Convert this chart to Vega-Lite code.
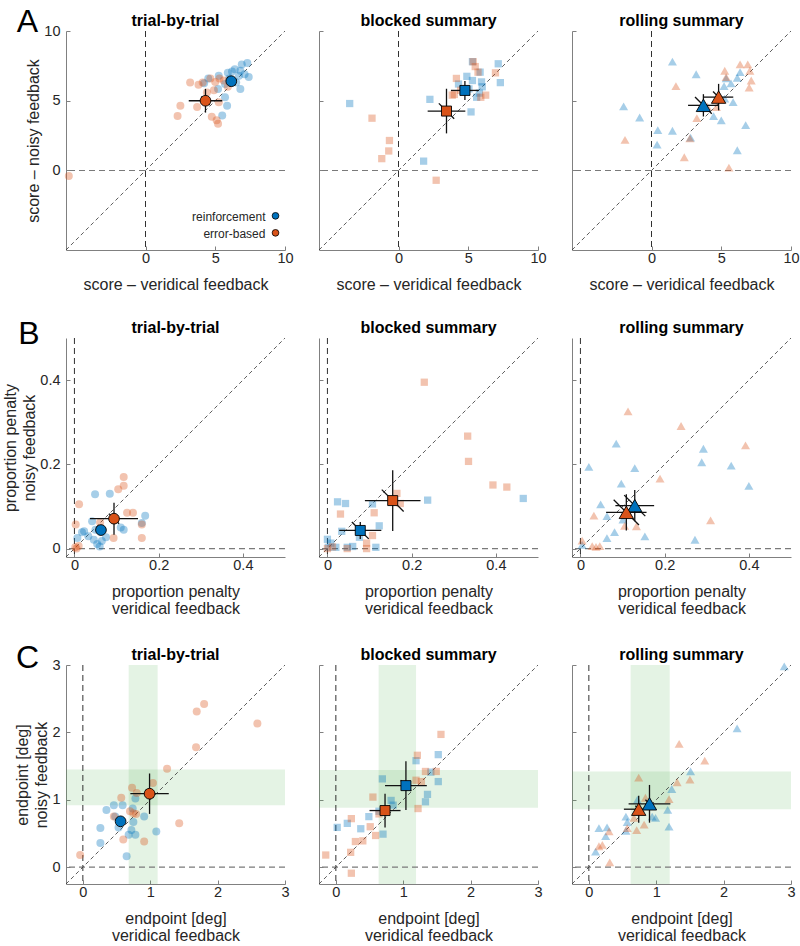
{
  "$schema": "https://vega.github.io/schema/vega-lite/v6.json",
  "background": "white",
  "padding": {"left": 2, "top": 5, "right": 0, "bottom": 0},
  "columns": 3,
  "spacing": {"row": 24, "column": 24},
  "align": "each",
  "bounds": "full",
  "datasets": {
    "pts": [
      {"p":"A1","g":"rf","x":7.3,"y":7.7},{"p":"A1","g":"rf","x":6.9,"y":7.6},{"p":"A1","g":"rf","x":6.4,"y":7.25},{"p":"A1","g":"rf","x":6.2,"y":7.1},{"p":"A1","g":"rf","x":6.8,"y":7.15},{"p":"A1","g":"rf","x":7.1,"y":6.9},{"p":"A1","g":"rf","x":7.4,"y":6.7},{"p":"A1","g":"rf","x":6.7,"y":6.8},{"p":"A1","g":"rf","x":6.8,"y":5.85},{"p":"A1","g":"rf","x":5.25,"y":6.8},{"p":"A1","g":"rf","x":4.5,"y":6.6},{"p":"A1","g":"rf","x":4.2,"y":6.25},{"p":"A1","g":"rf","x":5.7,"y":6.2},{"p":"A1","g":"rf","x":5.2,"y":5.85},{"p":"A1","g":"rf","x":5.7,"y":5.25},{"p":"A1","g":"rf","x":5.85,"y":4.65},{"p":"A1","g":"rf","x":5.5,"y":3.95},{"p":"A1","g":"rf","x":6.0,"y":6.6},{"p":"A1","g":"rf","x":5.9,"y":7.0},{"p":"A1","g":"rf","x":6.5,"y":6.3},
      {"p":"A1","g":"eb","x":3.8,"y":6.15},{"p":"A1","g":"eb","x":4.65,"y":6.6},{"p":"A1","g":"eb","x":5.0,"y":6.35},{"p":"A1","g":"eb","x":4.9,"y":5.75},{"p":"A1","g":"eb","x":5.6,"y":6.45},{"p":"A1","g":"eb","x":5.3,"y":6.6},{"p":"A1","g":"eb","x":2.5,"y":4.65},{"p":"A1","g":"eb","x":2.3,"y":3.9},{"p":"A1","g":"eb","x":3.7,"y":4.55},{"p":"A1","g":"eb","x":4.75,"y":3.85},{"p":"A1","g":"eb","x":5.1,"y":3.6},{"p":"A1","g":"eb","x":5.2,"y":3.35},{"p":"A1","g":"eb","x":5.25,"y":4.9},{"p":"A1","g":"eb","x":4.1,"y":6.3},{"p":"A1","g":"eb","x":-5.5,"y":-0.4},{"p":"A1","g":"eb","x":5.9,"y":6.0},{"p":"A1","g":"eb","x":3.2,"y":6.3},{"p":"A1","g":"eb","x":4.4,"y":5.6},
      {"p":"A2","g":"rf","x":-3.5,"y":4.8},{"p":"A2","g":"rf","x":2.25,"y":5.1},{"p":"A2","g":"rf","x":1.8,"y":0.67},{"p":"A2","g":"rf","x":5.2,"y":4.2},{"p":"A2","g":"rf","x":5.3,"y":7.8},{"p":"A2","g":"rf","x":4.9,"y":6.75},{"p":"A2","g":"rf","x":5.85,"y":7.05},{"p":"A2","g":"rf","x":5.95,"y":6.35},{"p":"A2","g":"rf","x":5.3,"y":6.45},{"p":"A2","g":"rf","x":7.15,"y":7.65},{"p":"A2","g":"rf","x":7.3,"y":6.3},{"p":"A2","g":"rf","x":4.3,"y":6.2},{"p":"A2","g":"rf","x":5.6,"y":5.25},{"p":"A2","g":"rf","x":5.8,"y":5.55},{"p":"A2","g":"rf","x":6.0,"y":6.0},{"p":"A2","g":"rf","x":5.05,"y":5.85},
      {"p":"A2","g":"eb","x":-1.9,"y":3.75},{"p":"A2","g":"eb","x":-0.65,"y":2.15},{"p":"A2","g":"eb","x":-0.7,"y":1.4},{"p":"A2","g":"eb","x":-1.2,"y":0.85},{"p":"A2","g":"eb","x":2.7,"y":-0.7},{"p":"A2","g":"eb","x":4.15,"y":6.6},{"p":"A2","g":"eb","x":3.85,"y":5.4},{"p":"A2","g":"eb","x":4.0,"y":5.45},{"p":"A2","g":"eb","x":5.5,"y":7.45},{"p":"A2","g":"eb","x":5.7,"y":7.05},{"p":"A2","g":"eb","x":6.95,"y":7.0},{"p":"A2","g":"eb","x":6.25,"y":5.4},{"p":"A2","g":"eb","x":4.45,"y":5.75},{"p":"A2","g":"eb","x":5.35,"y":7.8},{"p":"A2","g":"eb","x":5.9,"y":5.25},
      {"p":"A3","g":"rf","x":1.5,"y":7.8},{"p":"A3","g":"rf","x":3.2,"y":6.9},{"p":"A3","g":"rf","x":-2.0,"y":4.6},{"p":"A3","g":"rf","x":-0.85,"y":3.8},{"p":"A3","g":"rf","x":0.45,"y":2.9},{"p":"A3","g":"rf","x":1.5,"y":2.85},{"p":"A3","g":"rf","x":0.4,"y":1.85},{"p":"A3","g":"rf","x":2.8,"y":2.35},{"p":"A3","g":"rf","x":6.15,"y":1.45},{"p":"A3","g":"rf","x":6.75,"y":3.25},{"p":"A3","g":"rf","x":5.0,"y":3.6},{"p":"A3","g":"rf","x":4.45,"y":3.9},{"p":"A3","g":"rf","x":5.85,"y":4.9},{"p":"A3","g":"rf","x":5.25,"y":5.15},{"p":"A3","g":"rf","x":6.35,"y":7.05},{"p":"A3","g":"rf","x":6.15,"y":6.65},{"p":"A3","g":"rf","x":5.7,"y":6.25},{"p":"A3","g":"rf","x":5.35,"y":6.6},{"p":"A3","g":"rf","x":5.2,"y":6.05},
      {"p":"A3","g":"eb","x":1.75,"y":6.05},{"p":"A3","g":"eb","x":-1.9,"y":2.2},{"p":"A3","g":"eb","x":2.35,"y":0.95},{"p":"A3","g":"eb","x":5.55,"y":0.2},{"p":"A3","g":"eb","x":3.25,"y":3.75},{"p":"A3","g":"eb","x":2.75,"y":2.3},{"p":"A3","g":"eb","x":5.25,"y":7.15},{"p":"A3","g":"eb","x":6.35,"y":7.6},{"p":"A3","g":"eb","x":6.9,"y":7.6},{"p":"A3","g":"eb","x":7.05,"y":7.15},{"p":"A3","g":"eb","x":7.15,"y":6.45},{"p":"A3","g":"eb","x":7.0,"y":5.95},{"p":"A3","g":"eb","x":5.35,"y":6.7},{"p":"A3","g":"eb","x":4.0,"y":4.6},{"p":"A3","g":"eb","x":4.65,"y":4.55},
      {"p":"B1","g":"rf","x":0.049,"y":0.129},{"p":"B1","g":"rf","x":0.084,"y":0.13},{"p":"B1","g":"rf","x":0.168,"y":0.078},{"p":"B1","g":"rf","x":0.023,"y":0.041},{"p":"B1","g":"rf","x":0.033,"y":0.029},{"p":"B1","g":"rf","x":0.046,"y":0.021},{"p":"B1","g":"rf","x":0.054,"y":0.011},{"p":"B1","g":"rf","x":0.007,"y":0.025},{"p":"B1","g":"rf","x":0.117,"y":0.045},{"p":"B1","g":"rf","x":0.16,"y":0.061},{"p":"B1","g":"rf","x":0.05,"y":0.045},{"p":"B1","g":"rf","x":0.042,"y":0.065},{"p":"B1","g":"rf","x":0.06,"y":0.005},{"p":"B1","g":"rf","x":0.075,"y":0.027},{"p":"B1","g":"rf","x":0.018,"y":0.039},{"p":"B1","g":"rf","x":0.065,"y":0.018},{"p":"B1","g":"rf","x":0.11,"y":0.05},
      {"p":"B1","g":"eb","x":0.117,"y":0.17},{"p":"B1","g":"eb","x":0.117,"y":0.149},{"p":"B1","g":"eb","x":0.104,"y":0.141},{"p":"B1","g":"eb","x":0.011,"y":0.105},{"p":"B1","g":"eb","x":0.003,"y":0.057},{"p":"B1","g":"eb","x":0.002,"y":0.003},{"p":"B1","g":"eb","x":0.005,"y":0.0},{"p":"B1","g":"eb","x":0.01,"y":0.006},{"p":"B1","g":"eb","x":0.139,"y":0.085},{"p":"B1","g":"eb","x":0.125,"y":0.085},{"p":"B1","g":"eb","x":0.16,"y":0.057},{"p":"B1","g":"eb","x":0.16,"y":0.025},{"p":"B1","g":"eb","x":0.093,"y":0.025},{"p":"B1","g":"eb","x":0.061,"y":0.062},
      {"p":"B2","g":"rf","x":0.238,"y":0.115},{"p":"B2","g":"rf","x":0.465,"y":0.119},{"p":"B2","g":"rf","x":0.024,"y":0.111},{"p":"B2","g":"rf","x":0.043,"y":0.107},{"p":"B2","g":"rf","x":0.107,"y":0.106},{"p":"B2","g":"rf","x":0.123,"y":0.054},{"p":"B2","g":"rf","x":0.034,"y":0.041},{"p":"B2","g":"rf","x":0.076,"y":0.027},{"p":"B2","g":"rf","x":0.115,"y":0.003},{"p":"B2","g":"rf","x":0.0,"y":0.022},{"p":"B2","g":"rf","x":0.008,"y":0.013},{"p":"B2","g":"rf","x":0.02,"y":0.003},{"p":"B2","g":"rf","x":0.047,"y":0.003},{"p":"B2","g":"rf","x":0.06,"y":0.005},{"p":"B2","g":"rf","x":0.002,"y":0.003},
      {"p":"B2","g":"eb","x":0.23,"y":0.395},{"p":"B2","g":"eb","x":0.333,"y":0.267},{"p":"B2","g":"eb","x":0.335,"y":0.207},{"p":"B2","g":"eb","x":0.393,"y":0.151},{"p":"B2","g":"eb","x":0.426,"y":0.146},{"p":"B2","g":"eb","x":0.165,"y":0.131},{"p":"B2","g":"eb","x":0.173,"y":0.107},{"p":"B2","g":"eb","x":0.031,"y":0.082},{"p":"B2","g":"eb","x":0.111,"y":0.085},{"p":"B2","g":"eb","x":0.107,"y":0.031},{"p":"B2","g":"eb","x":0.093,"y":0.013},{"p":"B2","g":"eb","x":0.093,"y":0.0},{"p":"B2","g":"eb","x":0.047,"y":0.0},{"p":"B2","g":"eb","x":0.0,"y":0.0},{"p":"B2","g":"eb","x":0.012,"y":0.004},
      {"p":"B3","g":"rf","x":0.085,"y":0.249},{"p":"B3","g":"rf","x":0.02,"y":0.194},{"p":"B3","g":"rf","x":0.129,"y":0.191},{"p":"B3","g":"rf","x":0.097,"y":0.154},{"p":"B3","g":"rf","x":0.292,"y":0.237},{"p":"B3","g":"rf","x":0.288,"y":0.205},{"p":"B3","g":"rf","x":0.358,"y":0.197},{"p":"B3","g":"rf","x":0.4,"y":0.149},{"p":"B3","g":"rf","x":0.048,"y":0.105},{"p":"B3","g":"rf","x":0.063,"y":0.077},{"p":"B3","g":"rf","x":0.081,"y":0.039},{"p":"B3","g":"rf","x":0.063,"y":0.025},{"p":"B3","g":"rf","x":0.153,"y":0.029},{"p":"B3","g":"rf","x":0.272,"y":0.021},{"p":"B3","g":"rf","x":0.101,"y":0.069},{"p":"B3","g":"rf","x":0.004,"y":0.009},
      {"p":"B3","g":"eb","x":0.113,"y":0.326},{"p":"B3","g":"eb","x":0.239,"y":0.291},{"p":"B3","g":"eb","x":0.392,"y":0.245},{"p":"B3","g":"eb","x":0.189,"y":0.166},{"p":"B3","g":"eb","x":0.309,"y":0.067},{"p":"B3","g":"eb","x":0.032,"y":0.078},{"p":"B3","g":"eb","x":0.105,"y":0.054},{"p":"B3","g":"eb","x":0.133,"y":0.053},{"p":"B3","g":"eb","x":0.004,"y":0.019},{"p":"B3","g":"eb","x":0.028,"y":0.006},{"p":"B3","g":"eb","x":0.046,"y":0.006},{"p":"B3","g":"eb","x":0.037,"y":0.004},{"p":"B3","g":"eb","x":0.127,"y":0.101},
      {"p":"C1","g":"rf","x":0.35,"y":0.85},{"p":"C1","g":"rf","x":0.46,"y":0.92},{"p":"C1","g":"rf","x":0.59,"y":0.92},{"p":"C1","g":"rf","x":0.78,"y":1.02},{"p":"C1","g":"rf","x":0.26,"y":0.58},{"p":"C1","g":"rf","x":0.53,"y":0.59},{"p":"C1","g":"rf","x":0.26,"y":0.36},{"p":"C1","g":"rf","x":0.65,"y":0.16},{"p":"C1","g":"rf","x":0.68,"y":0.48},{"p":"C1","g":"rf","x":0.78,"y":0.48},{"p":"C1","g":"rf","x":1.09,"y":0.53},{"p":"C1","g":"rf","x":0.91,"y":0.75},{"p":"C1","g":"rf","x":0.75,"y":0.67},{"p":"C1","g":"rf","x":0.74,"y":0.87},{"p":"C1","g":"rf","x":0.48,"y":0.75},{"p":"C1","g":"rf","x":0.72,"y":0.55},
      {"p":"C1","g":"eb","x":1.8,"y":2.42},{"p":"C1","g":"eb","x":1.69,"y":2.31},{"p":"C1","g":"eb","x":2.59,"y":2.13},{"p":"C1","g":"eb","x":1.68,"y":1.78},{"p":"C1","g":"eb","x":1.25,"y":1.46},{"p":"C1","g":"eb","x":1.04,"y":1.25},{"p":"C1","g":"eb","x":0.73,"y":1.18},{"p":"C1","g":"eb","x":0.8,"y":1.1},{"p":"C1","g":"eb","x":0.57,"y":1.03},{"p":"C1","g":"eb","x":1.43,"y":0.65},{"p":"C1","g":"eb","x":0.91,"y":0.38},{"p":"C1","g":"eb","x":0.6,"y":0.41},{"p":"C1","g":"eb","x":-0.04,"y":0.18},{"p":"C1","g":"eb","x":0.46,"y":0.75},{"p":"C1","g":"eb","x":0.7,"y":0.83},{"p":"C1","g":"eb","x":0.79,"y":0.79},{"p":"C1","g":"eb","x":0.75,"y":0.8},
      {"p":"C2","g":"rf","x":1.52,"y":1.67},{"p":"C2","g":"rf","x":1.19,"y":1.58},{"p":"C2","g":"rf","x":1.41,"y":1.41},{"p":"C2","g":"rf","x":1.52,"y":1.27},{"p":"C2","g":"rf","x":0.69,"y":1.31},{"p":"C2","g":"rf","x":1.36,"y":1.08},{"p":"C2","g":"rf","x":1.33,"y":0.97},{"p":"C2","g":"rf","x":0.82,"y":0.99},{"p":"C2","g":"rf","x":0.85,"y":0.92},{"p":"C2","g":"rf","x":0.49,"y":0.75},{"p":"C2","g":"rf","x":0.02,"y":0.59},{"p":"C2","g":"rf","x":0.17,"y":0.65},{"p":"C2","g":"rf","x":0.37,"y":0.57},{"p":"C2","g":"rf","x":0.7,"y":0.49},{"p":"C2","g":"rf","x":0.64,"y":0.83},
      {"p":"C2","g":"eb","x":1.56,"y":1.97},{"p":"C2","g":"eb","x":1.21,"y":1.66},{"p":"C2","g":"eb","x":1.33,"y":1.42},{"p":"C2","g":"eb","x":1.49,"y":1.42},{"p":"C2","g":"eb","x":1.19,"y":1.29},{"p":"C2","g":"eb","x":1.27,"y":1.27},{"p":"C2","g":"eb","x":1.22,"y":0.87},{"p":"C2","g":"eb","x":0.55,"y":1.04},{"p":"C2","g":"eb","x":0.23,"y":0.72},{"p":"C2","g":"eb","x":0.51,"y":0.6},{"p":"C2","g":"eb","x":0.59,"y":0.47},{"p":"C2","g":"eb","x":0.4,"y":0.39},{"p":"C2","g":"eb","x":0.29,"y":0.38},{"p":"C2","g":"eb","x":0.22,"y":0.22},{"p":"C2","g":"eb","x":-0.15,"y":0.18},{"p":"C2","g":"eb","x":0.23,"y":-0.09},{"p":"C2","g":"eb","x":0.64,"y":0.79},
      {"p":"C3","g":"rf","x":2.9,"y":2.98},{"p":"C3","g":"rf","x":2.2,"y":2.06},{"p":"C3","g":"rf","x":1.51,"y":1.42},{"p":"C3","g":"rf","x":1.23,"y":1.16},{"p":"C3","g":"rf","x":1.17,"y":0.85},{"p":"C3","g":"rf","x":1.19,"y":0.6},{"p":"C3","g":"rf","x":0.99,"y":0.73},{"p":"C3","g":"rf","x":0.94,"y":0.75},{"p":"C3","g":"rf","x":0.72,"y":1.0},{"p":"C3","g":"rf","x":0.55,"y":0.75},{"p":"C3","g":"rf","x":0.57,"y":0.67},{"p":"C3","g":"rf","x":0.55,"y":0.54},{"p":"C3","g":"rf","x":0.15,"y":0.58},{"p":"C3","g":"rf","x":0.27,"y":0.59},{"p":"C3","g":"rf","x":0.25,"y":0.46},{"p":"C3","g":"rf","x":0.1,"y":0.23},
      {"p":"C3","g":"eb","x":1.34,"y":1.83},{"p":"C3","g":"eb","x":1.72,"y":1.58},{"p":"C3","g":"eb","x":1.5,"y":1.3},{"p":"C3","g":"eb","x":1.31,"y":1.26},{"p":"C3","g":"eb","x":1.19,"y":1.01},{"p":"C3","g":"eb","x":0.74,"y":1.33},{"p":"C3","g":"eb","x":0.84,"y":1.03},{"p":"C3","g":"eb","x":0.82,"y":0.63},{"p":"C3","g":"eb","x":0.71,"y":0.55},{"p":"C3","g":"eb","x":0.3,"y":0.53},{"p":"C3","g":"eb","x":0.2,"y":0.33},{"p":"C3","g":"eb","x":0.15,"y":0.31},{"p":"C3","g":"eb","x":0.31,"y":0.07},{"p":"C3","g":"eb","x":0.57,"y":0.58},{"p":"C3","g":"eb","x":0.67,"y":0.73}
    ],
    "means": [
      {"p":"A1","g":"rf","x":6.15,"y":6.4,"xlo":5.8,"xhi":6.5,"ylo":6.1,"yhi":6.7,"ax":5.85,"ay":6.7,"bx":6.45,"by":6.1},
      {"p":"A1","g":"eb","x":4.3,"y":5.0,"xlo":3.1,"xhi":5.5,"ylo":4.15,"yhi":5.85,"ax":4.0,"ay":5.3,"bx":4.6,"by":4.7},
      {"p":"A2","g":"rf","x":4.76,"y":5.74,"xlo":3.76,"xhi":5.76,"ylo":5.06,"yhi":6.42,"ax":4.41,"ay":6.09,"bx":5.11,"by":5.39},
      {"p":"A2","g":"eb","x":3.44,"y":4.26,"xlo":2.09,"xhi":4.79,"ylo":2.66,"yhi":5.86,"ax":2.89,"ay":4.81,"bx":3.99,"by":3.71},
      {"p":"A3","g":"rf","x":3.72,"y":4.67,"xlo":2.62,"xhi":4.82,"ylo":3.87,"yhi":5.47,"ax":3.12,"ay":5.27,"bx":4.32,"by":4.07},
      {"p":"A3","g":"eb","x":4.81,"y":5.26,"xlo":3.76,"xhi":5.86,"ylo":4.31,"yhi":6.21,"ax":4.41,"ay":5.66,"bx":5.21,"by":4.86},
      {"p":"B1","g":"rf","x":0.063,"y":0.044,"xlo":0.051,"xhi":0.075,"ylo":0.034,"yhi":0.054,"ax":0.055,"ay":0.052,"bx":0.071,"by":0.036},
      {"p":"B1","g":"eb","x":0.094,"y":0.071,"xlo":0.037,"xhi":0.151,"ylo":0.033,"yhi":0.109,"ax":0.082,"ay":0.083,"bx":0.106,"by":0.059},
      {"p":"B2","g":"rf","x":0.078,"y":0.043,"xlo":0.028,"xhi":0.128,"ylo":0.023,"yhi":0.063,"ax":0.058,"ay":0.063,"bx":0.098,"by":0.023},
      {"p":"B2","g":"eb","x":0.155,"y":0.114,"xlo":0.089,"xhi":0.221,"ylo":0.042,"yhi":0.186,"ax":0.129,"ay":0.14,"bx":0.181,"by":0.088},
      {"p":"B3","g":"rf","x":0.129,"y":0.102,"xlo":0.083,"xhi":0.175,"ylo":0.065,"yhi":0.139,"ax":0.104,"ay":0.127,"bx":0.154,"by":0.077},
      {"p":"B3","g":"eb","x":0.109,"y":0.086,"xlo":0.061,"xhi":0.157,"ylo":0.043,"yhi":0.129,"ax":0.079,"ay":0.116,"bx":0.139,"by":0.056},
      {"p":"C1","g":"rf","x":0.56,"y":0.68,"xlo":0.5,"xhi":0.62,"ylo":0.62,"yhi":0.74,"ax":0.52,"ay":0.72,"bx":0.6,"by":0.64},
      {"p":"C1","g":"eb","x":0.99,"y":1.09,"xlo":0.705,"xhi":1.275,"ylo":0.79,"yhi":1.39,"ax":0.93,"ay":1.15,"bx":1.05,"by":1.03},
      {"p":"C2","g":"rf","x":1.04,"y":1.21,"xlo":0.73,"xhi":1.35,"ylo":0.85,"yhi":1.57,"ax":0.96,"ay":1.29,"bx":1.12,"by":1.13},
      {"p":"C2","g":"eb","x":0.73,"y":0.84,"xlo":0.5,"xhi":0.96,"ylo":0.59,"yhi":1.09,"ax":0.68,"ay":0.89,"bx":0.78,"by":0.79},
      {"p":"C3","g":"rf","x":0.9,"y":0.94,"xlo":0.59,"xhi":1.21,"ylo":0.66,"yhi":1.22,"ax":0.84,"ay":1.0,"bx":0.96,"by":0.88},
      {"p":"C3","g":"eb","x":0.74,"y":0.86,"xlo":0.52,"xhi":0.96,"ylo":0.66,"yhi":1.06,"ax":0.69,"ay":0.91,"bx":0.79,"by":0.81}
    ],
    "bands": [
      {"p":"C1","d":"v","lo":0.68,"hi":1.11},{"p":"C1","d":"h","lo":0.92,"hi":1.45},
      {"p":"C2","d":"v","lo":0.635,"hi":1.19},{"p":"C2","d":"h","lo":0.88,"hi":1.44},
      {"p":"C3","d":"v","lo":0.62,"hi":1.2},{"p":"C3","d":"h","lo":0.86,"hi":1.42}
    ]
  },
  "concat": [
    {
      "width": 219, "height": 219,
      "layer": [
        {"data": {"values": [{}]}, "mark": {"type": "rule", "color": "#1a1a1a", "strokeWidth": 0.9, "strokeDash": [6, 4]}, "encoding": {"x": {"datum": 0}}},
        {"data": {"values": [{}]}, "mark": {"type": "rule", "color": "#7a7a7a", "strokeWidth": 1.2, "strokeDash": [6, 4]}, "encoding": {"y": {"datum": 0}}},
        {"data": {"values": [{}]}, "mark": {"type": "rule", "color": "#333333", "strokeWidth": 0.8, "strokeDash": [4, 3]}, "encoding": {"x": {"datum": -5.7}, "y": {"datum": -5.7}, "x2": {"datum": 10}, "y2": {"datum": 10}}},
        {"data": {"name": "pts"}, "transform": [{"filter": "datum.p == 'A1'"}], "mark": {"type": "point", "shape": "circle", "filled": true, "opacity": 0.35, "size": 64, "strokeWidth": 0},
         "encoding": {"x": {"field": "x", "type": "quantitative", "scale": {"domain": [-5.7, 10], "nice": false, "zero": false}, "axis": {"values": [0, 5, 10], "format": "~f", "title": "score – veridical feedback"}},
                      "y": {"field": "y", "type": "quantitative", "scale": {"domain": [-5.7, 10], "nice": false, "zero": false}, "axis": {"values": [0, 5, 10], "format": "~f", "title": "score – noisy feedback"}},
                      "fill": {"field": "g", "type": "nominal", "scale": {"domain": ["rf", "eb"], "range": ["#0072BD", "#D95319"]}, "legend": null}}},
        {"data": {"name": "means"}, "transform": [{"filter": "datum.p == 'A1'"}], "mark": {"type": "rule", "color": "#111111", "strokeWidth": 1.3}, "encoding": {"x": {"field": "xlo", "type": "quantitative"}, "x2": {"field": "xhi"}, "y": {"field": "y", "type": "quantitative"}}},
        {"data": {"name": "means"}, "transform": [{"filter": "datum.p == 'A1'"}], "mark": {"type": "rule", "color": "#111111", "strokeWidth": 1.3}, "encoding": {"y": {"field": "ylo", "type": "quantitative"}, "y2": {"field": "yhi"}, "x": {"field": "x", "type": "quantitative"}}},
        {"data": {"name": "means"}, "transform": [{"filter": "datum.p == 'A1'"}], "mark": {"type": "rule", "color": "#111111", "strokeWidth": 1.3}, "encoding": {"x": {"field": "ax", "type": "quantitative"}, "y": {"field": "ay", "type": "quantitative"}, "x2": {"field": "bx"}, "y2": {"field": "by"}}},
        {"data": {"name": "means"}, "transform": [{"filter": "datum.p == 'A1'"}], "mark": {"type": "point", "shape": "circle", "filled": true, "opacity": 1, "size": 115, "stroke": "#000000", "strokeWidth": 0.9},
         "encoding": {"x": {"field": "x", "type": "quantitative"}, "y": {"field": "y", "type": "quantitative"}, "fill": {"field": "g", "type": "nominal", "scale": {"domain": ["rf", "eb"], "range": ["#0072BD", "#D95319"]}, "legend": null}}},
        {"data": {"values": [{}]}, "mark": {"type": "text", "text": "trial-by-trial", "fontSize": 16, "fontWeight": "bold", "align": "center", "baseline": "middle", "color": "#000000"}, "encoding": {"x": {"datum": 2.15}, "y": {"datum": 10.72}}},
        {"data": {"values": [{}]}, "mark": {"type": "text", "text": "A", "fontSize": 32, "align": "center", "baseline": "middle", "color": "#000000"}, "encoding": {"x": {"datum": -8.46}, "y": {"datum": 10.65}}},
        {"data": {"values": [{}]}, "mark": {"type": "text", "text": "reinforcement", "align": "right", "baseline": "middle", "fontSize": 12, "color": "#262626"}, "encoding": {"x": {"datum": 8.6}, "y": {"datum": -3.3}}},
        {"data": {"values": [{}]}, "mark": {"type": "text", "text": "error-based", "align": "right", "baseline": "middle", "fontSize": 12, "color": "#262626"}, "encoding": {"x": {"datum": 8.6}, "y": {"datum": -4.55}}},
        {"data": {"values": [{}]}, "mark": {"type": "point", "shape": "circle", "filled": true, "fill": "#0072BD", "stroke": "#000000", "strokeWidth": 0.8, "size": 45, "opacity": 1}, "encoding": {"x": {"datum": 9.32}, "y": {"datum": -3.25}}},
        {"data": {"values": [{}]}, "mark": {"type": "point", "shape": "circle", "filled": true, "fill": "#D95319", "stroke": "#000000", "strokeWidth": 0.8, "size": 45, "opacity": 1}, "encoding": {"x": {"datum": 9.32}, "y": {"datum": -4.47}}}
      ]
    },
    {
      "width": 219, "height": 219,
      "layer": [
        {"data": {"values": [{}]}, "mark": {"type": "rule", "color": "#1a1a1a", "strokeWidth": 0.9, "strokeDash": [6, 4]}, "encoding": {"x": {"datum": 0}}},
        {"data": {"values": [{}]}, "mark": {"type": "rule", "color": "#7a7a7a", "strokeWidth": 1.2, "strokeDash": [6, 4]}, "encoding": {"y": {"datum": 0}}},
        {"data": {"values": [{}]}, "mark": {"type": "rule", "color": "#333333", "strokeWidth": 0.8, "strokeDash": [4, 3]}, "encoding": {"x": {"datum": -5.7}, "y": {"datum": -5.7}, "x2": {"datum": 10}, "y2": {"datum": 10}}},
        {"data": {"name": "pts"}, "transform": [{"filter": "datum.p == 'A2'"}], "mark": {"type": "point", "shape": "square", "filled": true, "opacity": 0.35, "size": 53, "strokeWidth": 0},
         "encoding": {"x": {"field": "x", "type": "quantitative", "scale": {"domain": [-5.7, 10], "nice": false, "zero": false}, "axis": {"values": [0, 5, 10], "format": "~f", "title": "score – veridical feedback"}},
                      "y": {"field": "y", "type": "quantitative", "scale": {"domain": [-5.7, 10], "nice": false, "zero": false}, "axis": {"values": [0, 5, 10], "labels": false, "title": null}},
                      "fill": {"field": "g", "type": "nominal", "scale": {"domain": ["rf", "eb"], "range": ["#0072BD", "#D95319"]}, "legend": null}}},
        {"data": {"name": "means"}, "transform": [{"filter": "datum.p == 'A2'"}], "mark": {"type": "rule", "color": "#111111", "strokeWidth": 1.3}, "encoding": {"x": {"field": "xlo", "type": "quantitative"}, "x2": {"field": "xhi"}, "y": {"field": "y", "type": "quantitative"}}},
        {"data": {"name": "means"}, "transform": [{"filter": "datum.p == 'A2'"}], "mark": {"type": "rule", "color": "#111111", "strokeWidth": 1.3}, "encoding": {"y": {"field": "ylo", "type": "quantitative"}, "y2": {"field": "yhi"}, "x": {"field": "x", "type": "quantitative"}}},
        {"data": {"name": "means"}, "transform": [{"filter": "datum.p == 'A2'"}], "mark": {"type": "rule", "color": "#111111", "strokeWidth": 1.3}, "encoding": {"x": {"field": "ax", "type": "quantitative"}, "y": {"field": "ay", "type": "quantitative"}, "x2": {"field": "bx"}, "y2": {"field": "by"}}},
        {"data": {"name": "means"}, "transform": [{"filter": "datum.p == 'A2'"}], "mark": {"type": "point", "shape": "square", "filled": true, "opacity": 1, "size": 100, "stroke": "#000000", "strokeWidth": 0.9},
         "encoding": {"x": {"field": "x", "type": "quantitative"}, "y": {"field": "y", "type": "quantitative"}, "fill": {"field": "g", "type": "nominal", "scale": {"domain": ["rf", "eb"], "range": ["#0072BD", "#D95319"]}, "legend": null}}},
        {"data": {"values": [{}]}, "mark": {"type": "text", "text": "blocked summary", "fontSize": 16, "fontWeight": "bold", "align": "center", "baseline": "middle", "color": "#000000"}, "encoding": {"x": {"datum": 2.15}, "y": {"datum": 10.72}}}
      ]
    },
    {
      "width": 219, "height": 219,
      "layer": [
        {"data": {"values": [{}]}, "mark": {"type": "rule", "color": "#1a1a1a", "strokeWidth": 0.9, "strokeDash": [6, 4]}, "encoding": {"x": {"datum": 0}}},
        {"data": {"values": [{}]}, "mark": {"type": "rule", "color": "#7a7a7a", "strokeWidth": 1.2, "strokeDash": [6, 4]}, "encoding": {"y": {"datum": 0}}},
        {"data": {"values": [{}]}, "mark": {"type": "rule", "color": "#333333", "strokeWidth": 0.8, "strokeDash": [4, 3]}, "encoding": {"x": {"datum": -5.7}, "y": {"datum": -5.7}, "x2": {"datum": 10}, "y2": {"datum": 10}}},
        {"data": {"name": "pts"}, "transform": [{"filter": "datum.p == 'A3'"}], "mark": {"type": "point", "shape": "triangle-up", "filled": true, "opacity": 0.35, "size": 81, "strokeWidth": 0},
         "encoding": {"x": {"field": "x", "type": "quantitative", "scale": {"domain": [-5.7, 10], "nice": false, "zero": false}, "axis": {"values": [0, 5, 10], "format": "~f", "title": "score – veridical feedback"}},
                      "y": {"field": "y", "type": "quantitative", "scale": {"domain": [-5.7, 10], "nice": false, "zero": false}, "axis": {"values": [0, 5, 10], "labels": false, "title": null}},
                      "fill": {"field": "g", "type": "nominal", "scale": {"domain": ["rf", "eb"], "range": ["#0072BD", "#D95319"]}, "legend": null}}},
        {"data": {"name": "means"}, "transform": [{"filter": "datum.p == 'A3'"}], "mark": {"type": "rule", "color": "#111111", "strokeWidth": 1.3}, "encoding": {"x": {"field": "xlo", "type": "quantitative"}, "x2": {"field": "xhi"}, "y": {"field": "y", "type": "quantitative"}}},
        {"data": {"name": "means"}, "transform": [{"filter": "datum.p == 'A3'"}], "mark": {"type": "rule", "color": "#111111", "strokeWidth": 1.3}, "encoding": {"y": {"field": "ylo", "type": "quantitative"}, "y2": {"field": "yhi"}, "x": {"field": "x", "type": "quantitative"}}},
        {"data": {"name": "means"}, "transform": [{"filter": "datum.p == 'A3'"}], "mark": {"type": "rule", "color": "#111111", "strokeWidth": 1.3}, "encoding": {"x": {"field": "ax", "type": "quantitative"}, "y": {"field": "ay", "type": "quantitative"}, "x2": {"field": "bx"}, "y2": {"field": "by"}}},
        {"data": {"name": "means"}, "transform": [{"filter": "datum.p == 'A3'"}], "mark": {"type": "point", "shape": "triangle-up", "filled": true, "opacity": 1, "size": 205, "stroke": "#000000", "strokeWidth": 0.9},
         "encoding": {"x": {"field": "x", "type": "quantitative"}, "y": {"field": "y", "type": "quantitative"}, "fill": {"field": "g", "type": "nominal", "scale": {"domain": ["rf", "eb"], "range": ["#0072BD", "#D95319"]}, "legend": null}}},
        {"data": {"values": [{}]}, "mark": {"type": "text", "text": "rolling summary", "fontSize": 16, "fontWeight": "bold", "align": "center", "baseline": "middle", "color": "#000000"}, "encoding": {"x": {"datum": 2.15}, "y": {"datum": 10.72}}}
      ]
    },
    {
      "width": 219, "height": 219,
      "layer": [
        {"data": {"values": [{}]}, "mark": {"type": "rule", "color": "#1a1a1a", "strokeWidth": 0.9, "strokeDash": [6, 4]}, "encoding": {"x": {"datum": 0}}},
        {"data": {"values": [{}]}, "mark": {"type": "rule", "color": "#7a7a7a", "strokeWidth": 1.2, "strokeDash": [6, 4]}, "encoding": {"y": {"datum": 0}}},
        {"data": {"values": [{}]}, "mark": {"type": "rule", "color": "#333333", "strokeWidth": 0.8, "strokeDash": [4, 3]}, "encoding": {"x": {"datum": -0.02}, "y": {"datum": -0.02}, "x2": {"datum": 0.5}, "y2": {"datum": 0.5}}},
        {"data": {"name": "pts"}, "transform": [{"filter": "datum.p == 'B1'"}], "mark": {"type": "point", "shape": "circle", "filled": true, "opacity": 0.35, "size": 64, "strokeWidth": 0},
         "encoding": {"x": {"field": "x", "type": "quantitative", "scale": {"domain": [-0.02, 0.5], "nice": false, "zero": false}, "axis": {"values": [0, 0.2, 0.4], "format": "~f", "title": ["proportion penalty", "veridical feedback"]}},
                      "y": {"field": "y", "type": "quantitative", "scale": {"domain": [-0.02, 0.5], "nice": false, "zero": false}, "axis": {"values": [0, 0.2, 0.4], "format": "~f", "title": ["proportion penalty", "noisy feedback"]}},
                      "fill": {"field": "g", "type": "nominal", "scale": {"domain": ["rf", "eb"], "range": ["#0072BD", "#D95319"]}, "legend": null}}},
        {"data": {"name": "means"}, "transform": [{"filter": "datum.p == 'B1'"}], "mark": {"type": "rule", "color": "#111111", "strokeWidth": 1.3}, "encoding": {"x": {"field": "xlo", "type": "quantitative"}, "x2": {"field": "xhi"}, "y": {"field": "y", "type": "quantitative"}}},
        {"data": {"name": "means"}, "transform": [{"filter": "datum.p == 'B1'"}], "mark": {"type": "rule", "color": "#111111", "strokeWidth": 1.3}, "encoding": {"y": {"field": "ylo", "type": "quantitative"}, "y2": {"field": "yhi"}, "x": {"field": "x", "type": "quantitative"}}},
        {"data": {"name": "means"}, "transform": [{"filter": "datum.p == 'B1'"}], "mark": {"type": "rule", "color": "#111111", "strokeWidth": 1.3}, "encoding": {"x": {"field": "ax", "type": "quantitative"}, "y": {"field": "ay", "type": "quantitative"}, "x2": {"field": "bx"}, "y2": {"field": "by"}}},
        {"data": {"name": "means"}, "transform": [{"filter": "datum.p == 'B1'"}], "mark": {"type": "point", "shape": "circle", "filled": true, "opacity": 1, "size": 115, "stroke": "#000000", "strokeWidth": 0.9},
         "encoding": {"x": {"field": "x", "type": "quantitative"}, "y": {"field": "y", "type": "quantitative"}, "fill": {"field": "g", "type": "nominal", "scale": {"domain": ["rf", "eb"], "range": ["#0072BD", "#D95319"]}, "legend": null}}},
        {"data": {"values": [{}]}, "mark": {"type": "text", "text": "trial-by-trial", "fontSize": 16, "fontWeight": "bold", "align": "center", "baseline": "middle", "color": "#000000"}, "encoding": {"x": {"datum": 0.24}, "y": {"datum": 0.524}}},
        {"data": {"values": [{}]}, "mark": {"type": "text", "text": "B", "fontSize": 32, "align": "center", "baseline": "middle", "color": "#000000"}, "encoding": {"x": {"datum": -0.108}, "y": {"datum": 0.51}}}
      ]
    },
    {
      "width": 219, "height": 219,
      "layer": [
        {"data": {"values": [{}]}, "mark": {"type": "rule", "color": "#1a1a1a", "strokeWidth": 0.9, "strokeDash": [6, 4]}, "encoding": {"x": {"datum": 0}}},
        {"data": {"values": [{}]}, "mark": {"type": "rule", "color": "#7a7a7a", "strokeWidth": 1.2, "strokeDash": [6, 4]}, "encoding": {"y": {"datum": 0}}},
        {"data": {"values": [{}]}, "mark": {"type": "rule", "color": "#333333", "strokeWidth": 0.8, "strokeDash": [4, 3]}, "encoding": {"x": {"datum": -0.02}, "y": {"datum": -0.02}, "x2": {"datum": 0.5}, "y2": {"datum": 0.5}}},
        {"data": {"name": "pts"}, "transform": [{"filter": "datum.p == 'B2'"}], "mark": {"type": "point", "shape": "square", "filled": true, "opacity": 0.35, "size": 53, "strokeWidth": 0},
         "encoding": {"x": {"field": "x", "type": "quantitative", "scale": {"domain": [-0.02, 0.5], "nice": false, "zero": false}, "axis": {"values": [0, 0.2, 0.4], "format": "~f", "title": ["proportion penalty", "veridical feedback"]}},
                      "y": {"field": "y", "type": "quantitative", "scale": {"domain": [-0.02, 0.5], "nice": false, "zero": false}, "axis": {"values": [0, 0.2, 0.4], "labels": false, "title": null}},
                      "fill": {"field": "g", "type": "nominal", "scale": {"domain": ["rf", "eb"], "range": ["#0072BD", "#D95319"]}, "legend": null}}},
        {"data": {"name": "means"}, "transform": [{"filter": "datum.p == 'B2'"}], "mark": {"type": "rule", "color": "#111111", "strokeWidth": 1.3}, "encoding": {"x": {"field": "xlo", "type": "quantitative"}, "x2": {"field": "xhi"}, "y": {"field": "y", "type": "quantitative"}}},
        {"data": {"name": "means"}, "transform": [{"filter": "datum.p == 'B2'"}], "mark": {"type": "rule", "color": "#111111", "strokeWidth": 1.3}, "encoding": {"y": {"field": "ylo", "type": "quantitative"}, "y2": {"field": "yhi"}, "x": {"field": "x", "type": "quantitative"}}},
        {"data": {"name": "means"}, "transform": [{"filter": "datum.p == 'B2'"}], "mark": {"type": "rule", "color": "#111111", "strokeWidth": 1.3}, "encoding": {"x": {"field": "ax", "type": "quantitative"}, "y": {"field": "ay", "type": "quantitative"}, "x2": {"field": "bx"}, "y2": {"field": "by"}}},
        {"data": {"name": "means"}, "transform": [{"filter": "datum.p == 'B2'"}], "mark": {"type": "point", "shape": "square", "filled": true, "opacity": 1, "size": 100, "stroke": "#000000", "strokeWidth": 0.9},
         "encoding": {"x": {"field": "x", "type": "quantitative"}, "y": {"field": "y", "type": "quantitative"}, "fill": {"field": "g", "type": "nominal", "scale": {"domain": ["rf", "eb"], "range": ["#0072BD", "#D95319"]}, "legend": null}}},
        {"data": {"values": [{}]}, "mark": {"type": "text", "text": "blocked summary", "fontSize": 16, "fontWeight": "bold", "align": "center", "baseline": "middle", "color": "#000000"}, "encoding": {"x": {"datum": 0.24}, "y": {"datum": 0.524}}}
      ]
    },
    {
      "width": 219, "height": 219,
      "layer": [
        {"data": {"values": [{}]}, "mark": {"type": "rule", "color": "#1a1a1a", "strokeWidth": 0.9, "strokeDash": [6, 4]}, "encoding": {"x": {"datum": 0}}},
        {"data": {"values": [{}]}, "mark": {"type": "rule", "color": "#7a7a7a", "strokeWidth": 1.2, "strokeDash": [6, 4]}, "encoding": {"y": {"datum": 0}}},
        {"data": {"values": [{}]}, "mark": {"type": "rule", "color": "#333333", "strokeWidth": 0.8, "strokeDash": [4, 3]}, "encoding": {"x": {"datum": -0.02}, "y": {"datum": -0.02}, "x2": {"datum": 0.5}, "y2": {"datum": 0.5}}},
        {"data": {"name": "pts"}, "transform": [{"filter": "datum.p == 'B3'"}], "mark": {"type": "point", "shape": "triangle-up", "filled": true, "opacity": 0.35, "size": 81, "strokeWidth": 0},
         "encoding": {"x": {"field": "x", "type": "quantitative", "scale": {"domain": [-0.02, 0.5], "nice": false, "zero": false}, "axis": {"values": [0, 0.2, 0.4], "format": "~f", "title": ["proportion penalty", "veridical feedback"]}},
                      "y": {"field": "y", "type": "quantitative", "scale": {"domain": [-0.02, 0.5], "nice": false, "zero": false}, "axis": {"values": [0, 0.2, 0.4], "labels": false, "title": null}},
                      "fill": {"field": "g", "type": "nominal", "scale": {"domain": ["rf", "eb"], "range": ["#0072BD", "#D95319"]}, "legend": null}}},
        {"data": {"name": "means"}, "transform": [{"filter": "datum.p == 'B3'"}], "mark": {"type": "rule", "color": "#111111", "strokeWidth": 1.3}, "encoding": {"x": {"field": "xlo", "type": "quantitative"}, "x2": {"field": "xhi"}, "y": {"field": "y", "type": "quantitative"}}},
        {"data": {"name": "means"}, "transform": [{"filter": "datum.p == 'B3'"}], "mark": {"type": "rule", "color": "#111111", "strokeWidth": 1.3}, "encoding": {"y": {"field": "ylo", "type": "quantitative"}, "y2": {"field": "yhi"}, "x": {"field": "x", "type": "quantitative"}}},
        {"data": {"name": "means"}, "transform": [{"filter": "datum.p == 'B3'"}], "mark": {"type": "rule", "color": "#111111", "strokeWidth": 1.3}, "encoding": {"x": {"field": "ax", "type": "quantitative"}, "y": {"field": "ay", "type": "quantitative"}, "x2": {"field": "bx"}, "y2": {"field": "by"}}},
        {"data": {"name": "means"}, "transform": [{"filter": "datum.p == 'B3'"}], "mark": {"type": "point", "shape": "triangle-up", "filled": true, "opacity": 1, "size": 205, "stroke": "#000000", "strokeWidth": 0.9},
         "encoding": {"x": {"field": "x", "type": "quantitative"}, "y": {"field": "y", "type": "quantitative"}, "fill": {"field": "g", "type": "nominal", "scale": {"domain": ["rf", "eb"], "range": ["#0072BD", "#D95319"]}, "legend": null}}},
        {"data": {"values": [{}]}, "mark": {"type": "text", "text": "rolling summary", "fontSize": 16, "fontWeight": "bold", "align": "center", "baseline": "middle", "color": "#000000"}, "encoding": {"x": {"datum": 0.24}, "y": {"datum": 0.524}}}
      ]
    },
    {
      "width": 219, "height": 219,
      "layer": [
        {"data": {"name": "bands"}, "transform": [{"filter": "datum.p == 'C1' && datum.d == 'v'"}], "mark": {"type": "rect", "color": "#4daf4a", "opacity": 0.15}, "encoding": {"x": {"field": "lo", "type": "quantitative"}, "x2": {"field": "hi"}}},
        {"data": {"name": "bands"}, "transform": [{"filter": "datum.p == 'C1' && datum.d == 'h'"}], "mark": {"type": "rect", "color": "#4daf4a", "opacity": 0.15}, "encoding": {"y": {"field": "lo", "type": "quantitative"}, "y2": {"field": "hi"}}},
        {"data": {"values": [{}]}, "mark": {"type": "rule", "color": "#1a1a1a", "strokeWidth": 0.9, "strokeDash": [6, 4]}, "encoding": {"x": {"datum": 0}}},
        {"data": {"values": [{}]}, "mark": {"type": "rule", "color": "#7a7a7a", "strokeWidth": 1.2, "strokeDash": [6, 4]}, "encoding": {"y": {"datum": 0}}},
        {"data": {"values": [{}]}, "mark": {"type": "rule", "color": "#333333", "strokeWidth": 0.8, "strokeDash": [4, 3]}, "encoding": {"x": {"datum": -0.25}, "y": {"datum": -0.25}, "x2": {"datum": 3}, "y2": {"datum": 3}}},
        {"data": {"name": "pts"}, "transform": [{"filter": "datum.p == 'C1'"}], "mark": {"type": "point", "shape": "circle", "filled": true, "opacity": 0.35, "size": 64, "strokeWidth": 0},
         "encoding": {"x": {"field": "x", "type": "quantitative", "scale": {"domain": [-0.25, 3], "nice": false, "zero": false}, "axis": {"values": [0, 1, 2, 3], "format": "~f", "title": ["endpoint [deg]", "veridical feedback"]}},
                      "y": {"field": "y", "type": "quantitative", "scale": {"domain": [-0.25, 3], "nice": false, "zero": false}, "axis": {"values": [0, 1, 2, 3], "format": "~f", "title": ["endpoint [deg]", "noisy feedback"]}},
                      "fill": {"field": "g", "type": "nominal", "scale": {"domain": ["rf", "eb"], "range": ["#0072BD", "#D95319"]}, "legend": null}}},
        {"data": {"name": "means"}, "transform": [{"filter": "datum.p == 'C1'"}], "mark": {"type": "rule", "color": "#111111", "strokeWidth": 1.3}, "encoding": {"x": {"field": "xlo", "type": "quantitative"}, "x2": {"field": "xhi"}, "y": {"field": "y", "type": "quantitative"}}},
        {"data": {"name": "means"}, "transform": [{"filter": "datum.p == 'C1'"}], "mark": {"type": "rule", "color": "#111111", "strokeWidth": 1.3}, "encoding": {"y": {"field": "ylo", "type": "quantitative"}, "y2": {"field": "yhi"}, "x": {"field": "x", "type": "quantitative"}}},
        {"data": {"name": "means"}, "transform": [{"filter": "datum.p == 'C1'"}], "mark": {"type": "rule", "color": "#111111", "strokeWidth": 1.3}, "encoding": {"x": {"field": "ax", "type": "quantitative"}, "y": {"field": "ay", "type": "quantitative"}, "x2": {"field": "bx"}, "y2": {"field": "by"}}},
        {"data": {"name": "means"}, "transform": [{"filter": "datum.p == 'C1'"}], "mark": {"type": "point", "shape": "circle", "filled": true, "opacity": 1, "size": 115, "stroke": "#000000", "strokeWidth": 0.9},
         "encoding": {"x": {"field": "x", "type": "quantitative"}, "y": {"field": "y", "type": "quantitative"}, "fill": {"field": "g", "type": "nominal", "scale": {"domain": ["rf", "eb"], "range": ["#0072BD", "#D95319"]}, "legend": null}}},
        {"data": {"values": [{}]}, "mark": {"type": "text", "text": "trial-by-trial", "fontSize": 16, "fontWeight": "bold", "align": "center", "baseline": "middle", "color": "#000000"}, "encoding": {"x": {"datum": 1.375}, "y": {"datum": 3.148}}},
        {"data": {"values": [{}]}, "mark": {"type": "text", "text": "C", "fontSize": 32, "align": "center", "baseline": "middle", "color": "#000000"}, "encoding": {"x": {"datum": -0.82}, "y": {"datum": 3.11}}}
      ]
    },
    {
      "width": 219, "height": 219,
      "layer": [
        {"data": {"name": "bands"}, "transform": [{"filter": "datum.p == 'C2' && datum.d == 'v'"}], "mark": {"type": "rect", "color": "#4daf4a", "opacity": 0.15}, "encoding": {"x": {"field": "lo", "type": "quantitative"}, "x2": {"field": "hi"}}},
        {"data": {"name": "bands"}, "transform": [{"filter": "datum.p == 'C2' && datum.d == 'h'"}], "mark": {"type": "rect", "color": "#4daf4a", "opacity": 0.15}, "encoding": {"y": {"field": "lo", "type": "quantitative"}, "y2": {"field": "hi"}}},
        {"data": {"values": [{}]}, "mark": {"type": "rule", "color": "#1a1a1a", "strokeWidth": 0.9, "strokeDash": [6, 4]}, "encoding": {"x": {"datum": 0}}},
        {"data": {"values": [{}]}, "mark": {"type": "rule", "color": "#7a7a7a", "strokeWidth": 1.2, "strokeDash": [6, 4]}, "encoding": {"y": {"datum": 0}}},
        {"data": {"values": [{}]}, "mark": {"type": "rule", "color": "#333333", "strokeWidth": 0.8, "strokeDash": [4, 3]}, "encoding": {"x": {"datum": -0.25}, "y": {"datum": -0.25}, "x2": {"datum": 3}, "y2": {"datum": 3}}},
        {"data": {"name": "pts"}, "transform": [{"filter": "datum.p == 'C2'"}], "mark": {"type": "point", "shape": "square", "filled": true, "opacity": 0.35, "size": 53, "strokeWidth": 0},
         "encoding": {"x": {"field": "x", "type": "quantitative", "scale": {"domain": [-0.25, 3], "nice": false, "zero": false}, "axis": {"values": [0, 1, 2, 3], "format": "~f", "title": ["endpoint [deg]", "veridical feedback"]}},
                      "y": {"field": "y", "type": "quantitative", "scale": {"domain": [-0.25, 3], "nice": false, "zero": false}, "axis": {"values": [0, 1, 2, 3], "labels": false, "title": null}},
                      "fill": {"field": "g", "type": "nominal", "scale": {"domain": ["rf", "eb"], "range": ["#0072BD", "#D95319"]}, "legend": null}}},
        {"data": {"name": "means"}, "transform": [{"filter": "datum.p == 'C2'"}], "mark": {"type": "rule", "color": "#111111", "strokeWidth": 1.3}, "encoding": {"x": {"field": "xlo", "type": "quantitative"}, "x2": {"field": "xhi"}, "y": {"field": "y", "type": "quantitative"}}},
        {"data": {"name": "means"}, "transform": [{"filter": "datum.p == 'C2'"}], "mark": {"type": "rule", "color": "#111111", "strokeWidth": 1.3}, "encoding": {"y": {"field": "ylo", "type": "quantitative"}, "y2": {"field": "yhi"}, "x": {"field": "x", "type": "quantitative"}}},
        {"data": {"name": "means"}, "transform": [{"filter": "datum.p == 'C2'"}], "mark": {"type": "rule", "color": "#111111", "strokeWidth": 1.3}, "encoding": {"x": {"field": "ax", "type": "quantitative"}, "y": {"field": "ay", "type": "quantitative"}, "x2": {"field": "bx"}, "y2": {"field": "by"}}},
        {"data": {"name": "means"}, "transform": [{"filter": "datum.p == 'C2'"}], "mark": {"type": "point", "shape": "square", "filled": true, "opacity": 1, "size": 100, "stroke": "#000000", "strokeWidth": 0.9},
         "encoding": {"x": {"field": "x", "type": "quantitative"}, "y": {"field": "y", "type": "quantitative"}, "fill": {"field": "g", "type": "nominal", "scale": {"domain": ["rf", "eb"], "range": ["#0072BD", "#D95319"]}, "legend": null}}},
        {"data": {"values": [{}]}, "mark": {"type": "text", "text": "blocked summary", "fontSize": 16, "fontWeight": "bold", "align": "center", "baseline": "middle", "color": "#000000"}, "encoding": {"x": {"datum": 1.375}, "y": {"datum": 3.148}}}
      ]
    },
    {
      "width": 219, "height": 219,
      "layer": [
        {"data": {"name": "bands"}, "transform": [{"filter": "datum.p == 'C3' && datum.d == 'v'"}], "mark": {"type": "rect", "color": "#4daf4a", "opacity": 0.15}, "encoding": {"x": {"field": "lo", "type": "quantitative"}, "x2": {"field": "hi"}}},
        {"data": {"name": "bands"}, "transform": [{"filter": "datum.p == 'C3' && datum.d == 'h'"}], "mark": {"type": "rect", "color": "#4daf4a", "opacity": 0.15}, "encoding": {"y": {"field": "lo", "type": "quantitative"}, "y2": {"field": "hi"}}},
        {"data": {"values": [{}]}, "mark": {"type": "rule", "color": "#1a1a1a", "strokeWidth": 0.9, "strokeDash": [6, 4]}, "encoding": {"x": {"datum": 0}}},
        {"data": {"values": [{}]}, "mark": {"type": "rule", "color": "#7a7a7a", "strokeWidth": 1.2, "strokeDash": [6, 4]}, "encoding": {"y": {"datum": 0}}},
        {"data": {"values": [{}]}, "mark": {"type": "rule", "color": "#333333", "strokeWidth": 0.8, "strokeDash": [4, 3]}, "encoding": {"x": {"datum": -0.25}, "y": {"datum": -0.25}, "x2": {"datum": 3}, "y2": {"datum": 3}}},
        {"data": {"name": "pts"}, "transform": [{"filter": "datum.p == 'C3'"}], "mark": {"type": "point", "shape": "triangle-up", "filled": true, "opacity": 0.35, "size": 81, "strokeWidth": 0},
         "encoding": {"x": {"field": "x", "type": "quantitative", "scale": {"domain": [-0.25, 3], "nice": false, "zero": false}, "axis": {"values": [0, 1, 2, 3], "format": "~f", "title": ["endpoint [deg]", "veridical feedback"]}},
                      "y": {"field": "y", "type": "quantitative", "scale": {"domain": [-0.25, 3], "nice": false, "zero": false}, "axis": {"values": [0, 1, 2, 3], "labels": false, "title": null}},
                      "fill": {"field": "g", "type": "nominal", "scale": {"domain": ["rf", "eb"], "range": ["#0072BD", "#D95319"]}, "legend": null}}},
        {"data": {"name": "means"}, "transform": [{"filter": "datum.p == 'C3'"}], "mark": {"type": "rule", "color": "#111111", "strokeWidth": 1.3}, "encoding": {"x": {"field": "xlo", "type": "quantitative"}, "x2": {"field": "xhi"}, "y": {"field": "y", "type": "quantitative"}}},
        {"data": {"name": "means"}, "transform": [{"filter": "datum.p == 'C3'"}], "mark": {"type": "rule", "color": "#111111", "strokeWidth": 1.3}, "encoding": {"y": {"field": "ylo", "type": "quantitative"}, "y2": {"field": "yhi"}, "x": {"field": "x", "type": "quantitative"}}},
        {"data": {"name": "means"}, "transform": [{"filter": "datum.p == 'C3'"}], "mark": {"type": "rule", "color": "#111111", "strokeWidth": 1.3}, "encoding": {"x": {"field": "ax", "type": "quantitative"}, "y": {"field": "ay", "type": "quantitative"}, "x2": {"field": "bx"}, "y2": {"field": "by"}}},
        {"data": {"name": "means"}, "transform": [{"filter": "datum.p == 'C3'"}], "mark": {"type": "point", "shape": "triangle-up", "filled": true, "opacity": 1, "size": 205, "stroke": "#000000", "strokeWidth": 0.9},
         "encoding": {"x": {"field": "x", "type": "quantitative"}, "y": {"field": "y", "type": "quantitative"}, "fill": {"field": "g", "type": "nominal", "scale": {"domain": ["rf", "eb"], "range": ["#0072BD", "#D95319"]}, "legend": null}}},
        {"data": {"values": [{}]}, "mark": {"type": "text", "text": "rolling summary", "fontSize": 16, "fontWeight": "bold", "align": "center", "baseline": "middle", "color": "#000000"}, "encoding": {"x": {"datum": 1.375}, "y": {"datum": 3.148}}}
      ]
    }
  ],
  "config": {
    "font": "Liberation Sans",
    "view": {"stroke": null},
    "axis": {
      "grid": false, "domainColor": "#808080", "domainWidth": 1, "tickColor": "#808080", "tickWidth": 1, "tickSize": -4,
      "labelFontSize": 14.5, "labelColor": "#262626", "labelFlush": false, "labelOverlap": false,
      "titleFontSize": 16, "titleFontWeight": "normal", "titleColor": "#262626"
    },
    "axisX": {"labelPadding": 5, "titlePadding": 12, "titleLineHeight": 17},
    "axisY": {"labelPadding": 10, "titlePadding": 2, "titleLineHeight": 19}
  }
}
